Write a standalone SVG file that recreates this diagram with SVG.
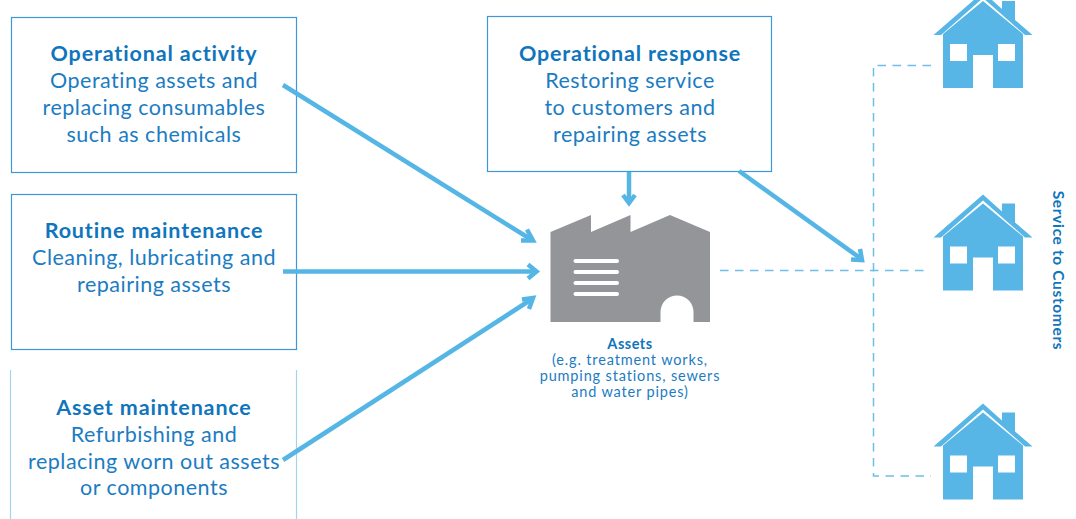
<svg xmlns="http://www.w3.org/2000/svg" width="1076" height="519" viewBox="0 0 1076 519">
<style>
text{font-family:"Lato","Open Sans","Liberation Sans",sans-serif;text-anchor:middle;fill:#0f75bc}
.t{font-size:21.5px;font-weight:700;letter-spacing:.85px}
.b{font-size:21.5px;font-weight:400;letter-spacing:.5px;fill:#1b7cc2}
.s{font-size:14.500px;font-weight:400;letter-spacing:.85px;fill:#1b7cc2}
.box{fill:#fff;stroke:#3f97d3;stroke-width:1.2}
.arrow{fill:none;stroke:#55b6e6;stroke-width:4.500}
.dash{fill:none;stroke:#6cbfe9;stroke-width:1.5;stroke-dasharray:8.5 6.5}
.house{fill:#57b6e6}
.win{fill:#fff}
</style>
<defs>
<g id="house">
<path class="house" d="M0 0L-49.500 43H-42L0 6L42 43H49.500L32 28V9H19V17Z"/>
<path class="house" d="M0 9L-40 42V96H-10V63H10V96H40V42Z"/>
<rect class="win" x="-33" y="52" width="17" height="17"/>
<rect class="win" x="15" y="52" width="17" height="17"/>
</g>
</defs>
<g id="n1">
<rect class="box" x="11.500" y="17.500" width="285" height="155"/>
<text class="t" x="154" y="61">Operational activity</text>
<text class="b" x="154" y="88">Operating assets and</text>
<text class="b" x="154" y="115">replacing consumables</text>
<text class="b" x="154" y="142">such as chemicals</text>
</g>
<g id="n2">
<rect class="box" x="11.500" y="194.500" width="285" height="155"/>
<text class="t" x="154" y="238">Routine maintenance</text>
<text class="b" x="154" y="265">Cleaning, lubricating and</text>
<text class="b" x="154" y="292">repairing assets</text>
</g>
<g id="n3">
<path d="M10.500 370V519M296.500 370V519" fill="none" stroke="#a5d2ef" stroke-width="1.200"/>
<text class="t" x="154" y="415">Asset maintenance</text>
<text class="b" x="154" y="442">Refurbishing and</text>
<text class="b" x="154" y="469">replacing worn out assets</text>
<text class="b" x="154" y="495">or components</text>
</g>
<g id="n4">
<rect class="box" x="487.500" y="16.500" width="284" height="155"/>
<text class="t" x="630" y="61">Operational response</text>
<text class="b" x="630" y="88">Restoring service</text>
<text class="b" x="630" y="115">to customers and</text>
<text class="b" x="630" y="142">repairing assets</text>
</g>
<g id="connectors">
<path class="arrow" d="M283 85L532 240"/><path class="arrow" d="M527 229.500L533 240.500L521 240.500"/>
<path class="arrow" d="M283 271.500H536"/><path class="arrow" d="M528 264.500L536.500 271.500L528 278.500"/>
<path class="arrow" d="M283 460L532 299"/><path class="arrow" d="M522 299.500L533 298L529 309"/>
<path class="arrow" d="M629 172V203"/><path class="arrow" d="M623 195L629 203L635 195"/>
<path class="arrow" d="M739 171L860 258"/><path class="arrow" d="M860 249L862 260L851 259.500"/>
<path class="dash" d="M720 270.500H928"/>
<path class="dash" d="M931 65.500H873.500V476H931"/>
</g>
<g id="assets">
<path fill="#939598" d="M550.500 232L591 215V232L630.500 215V232L670 215L710 232V322H693.500V312A16.500 16.500 0 0 0 660.500 312V322H550.500Z"/>
<g fill="#fff"><rect x="573.500" y="259" width="45.500" height="4" rx="2"/><rect x="573.500" y="270" width="45.500" height="4" rx="2"/><rect x="573.500" y="281" width="45.500" height="4" rx="2"/><rect x="573.500" y="292" width="45.500" height="4" rx="2"/></g>
<text x="630" y="349" font-size="14.500" font-weight="700" letter-spacing=".5">Assets</text>
<text class="s" x="630" y="365">(e.g. treatment works,</text>
<text class="s" x="630" y="381">pumping stations, sewers</text>
<text class="s" x="630" y="397">and water pipes)</text>
</g>
<g id="h1"><use href="#house" x="983" y="-8"/></g>
<g id="h2"><use href="#house" x="983" y="194.500"/></g>
<g id="h3"><use href="#house" x="983" y="403.500"/></g>
<g id="service"><text transform="translate(1053 270.500) rotate(90)" font-size="15.500" font-weight="700" letter-spacing=".65">Service to Customers</text></g>
</svg>
